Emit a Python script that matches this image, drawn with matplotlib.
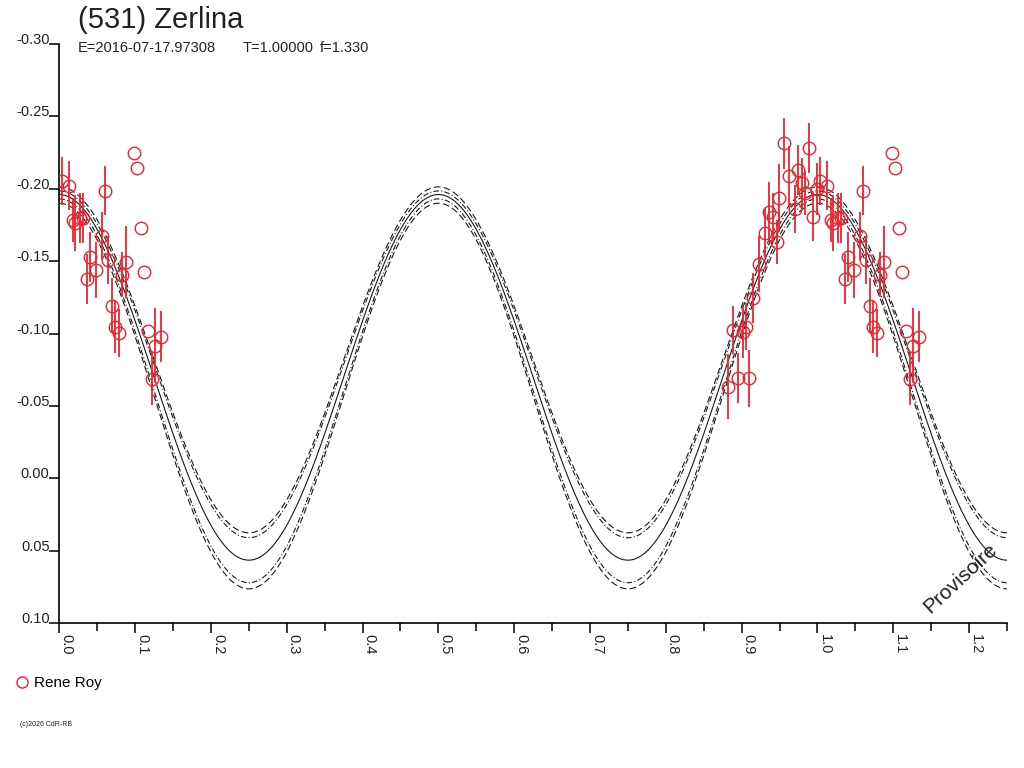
import numpy as np
import matplotlib
matplotlib.use("Agg")
import matplotlib.pyplot as plt
from matplotlib.ticker import MultipleLocator
from matplotlib.lines import Line2D

plt.rcParams['font.family'] = ['Liberation Sans', 'DejaVu Sans']

# observations (Rene Roy): phase, magnitude, error (0 = no bar drawn)
obs_phase = [0.0040, 0.0132, 0.0599, 0.0185, 0.0207, 0.0273, 0.0309, 0.0559,
             0.0401, 0.0480, 0.0361, 0.0646, 0.0691, 0.0985, 0.1029, 0.1073,
             0.0876, 0.0831, 0.1121, 0.0735, 0.0787, 0.1166, 0.1341, 0.1262,
             0.1219,
             0.8822, 0.8954, 0.9099, 0.8888, 0.9020, 0.9056, 0.9144, 0.9234,
             0.9313, 0.9461, 0.9362, 0.9416, 0.9494, 0.9557, 0.9626, 0.9748,
             0.9798, 0.9890, 0.9702, 0.9834, 0.9935, 0.9988]
obs_mag = [-0.2056, -0.2021, -0.1987, -0.1785, -0.1766, -0.1800, -0.1800, -0.1674,
           -0.1527, -0.1439, -0.1375, -0.1508, -0.1193, -0.2245, -0.2146, -0.1727,
           -0.1492, -0.1405, -0.1425, -0.1048, -0.1006, -0.1018, -0.0979, -0.0914,
           -0.0686,
           -0.0633, -0.0691, -0.0691, -0.1025, -0.1011, -0.1048, -0.1248, -0.1479,
           -0.1693, -0.1635, -0.1842, -0.1803, -0.1934, -0.2314, -0.2090, -0.2130,
           -0.2037, -0.2284, -0.1860, -0.1971, -0.1807, -0.1999]
obs_err = [0.0166, 0.0169, 0.0169, 0.0152, 0.0193, 0.0173, 0.0173, 0.0166,
           0.0173, 0.0193, 0.0173, 0.0166, 0.0190, 0.0, 0.0, 0.0,
           0.0249, 0.0155, 0.0, 0.0186, 0.0166, 0.0, 0.0173, 0.0259,
           0.0183,
           0.0224, 0.0173, 0.0197, 0.0166, 0.0180, 0.0162, 0.0173, 0.0193,
           0.0173, 0.0152, 0.0207, 0.0169, 0.0235, 0.0176, 0.0207, 0.0173,
           0.0173, 0.0173, 0.0166, 0.0155, 0.0169, 0.0180]

# fitted model and its envelopes: mean level and half amplitude of the 2nd harmonic
model_mean = [-0.0697, -0.0818, -0.0787, -0.0604, -0.0568]
model_amp = [0.1263, 0.1195, 0.1198, 0.1326, 0.1332]

xticks = [0.0, 0.1, 0.2, 0.3, 0.4, 0.5, 0.6, 0.7, 0.8, 0.9, 1.0, 1.1, 1.2]
yticks = [-0.30, -0.25, -0.20, -0.15, -0.10, -0.05, 0.00, 0.05, 0.10]

red = '#ea2430'
ink = '#1a1a1a'

fig = plt.figure(figsize=(10.24, 7.68), dpi=100)
ax = fig.add_axes([59.3 / 1024, 1 - 623 / 768, (1007 - 59.3) / 1024, (623 - 44) / 768])

# model curves
ph = np.linspace(0, 1.25, 800)
styles = ['-', (0, (6, 3)), (0, (5, 2, 1, 2)), (0, (5, 2, 1, 2)), (0, (6, 3))]
for m, a, ls in zip(model_mean, model_amp, styles):
    ax.plot(ph, m - a * np.cos(4 * np.pi * ph), color=ink, lw=0.8, ls=ls, zorder=2)

# data repeated one cycle further where it fits the phase window
p = np.array(obs_phase)
mg = np.array(obs_mag)
er = np.array(obs_err)
xs = np.concatenate([p, p + 1])
ys = np.concatenate([mg, mg])
es = np.concatenate([er, er])
keep = (xs >= 0) & (xs <= 1.25)
ax.errorbar(xs[keep], ys[keep], yerr=es[keep], fmt='o', ms=9, mfc='none', mec=red,
            mew=1.0, ecolor=red, elinewidth=1.3, capsize=0, zorder=3)

ax.set_xlim(0, 1.25)
ax.set_ylim(0.10, -0.30)
ax.spines['top'].set_visible(False)
ax.spines['right'].set_visible(False)
for s in ['left', 'bottom']:
    ax.spines[s].set_linewidth(1.2)
    ax.spines[s].set_color('black')

ax.set_xticks(xticks)
ax.set_xticklabels(['%.1f' % v for v in xticks])
ax.xaxis.set_minor_locator(MultipleLocator(0.05))
ax.tick_params(axis='x', which='major', length=7, width=1.1, pad=1, labelsize=10.5,
               labelrotation=-90, colors='black', labelcolor='#222222')
ax.tick_params(axis='x', which='minor', length=5.5, width=1.1)
for lbl in ax.get_xticklabels():
    lbl.set_ha('left')
    lbl.set_va('top')

ax.set_yticks(yticks)
ax.set_yticklabels(['%.2f' % v for v in yticks])
ax.tick_params(axis='y', length=7, width=1.1, pad=0, labelsize=10.5, labelcolor='#222222')
for lbl in ax.get_yticklabels():
    lbl.set_va('baseline')

# header texts
fig.text(78 / 1024, 1 - 20 / 768, '(531) Zerlina', fontsize=21, va='center', color='#222222')
fig.text(78 / 1024, 1 - 48 / 768, 'E=2016-07-17.97308', fontsize=10.5, va='center', color='#222222')
fig.text(243 / 1024, 1 - 48 / 768, 'T=1.00000', fontsize=10.5, va='center', color='#222222')
fig.text(320 / 1024, 1 - 48 / 768, 'f=1.330', fontsize=10.5, va='center', color='#222222')

fig.text(960 / 1024, 1 - 578 / 768, 'Provisoire', fontsize=15, rotation=43,
         ha='center', va='center', color='#222222')

handle = Line2D([], [], marker='o', ls='none', mfc='none', mec=red, mew=1.0, ms=8)
fig.legend(handles=[handle], labels=['Rene Roy'], loc='center left',
           bbox_to_anchor=(14 / 1024, 1 - 683 / 768), frameon=False, fontsize=11,
           handlelength=1.0, handletextpad=0.3, borderpad=0, borderaxespad=0)

fig.text(20 / 1024, 1 - 725 / 768, '(c)2026 CdR-RB', fontsize=5, va='center', color='#222222')

fig.savefig('out.png', dpi=100)
